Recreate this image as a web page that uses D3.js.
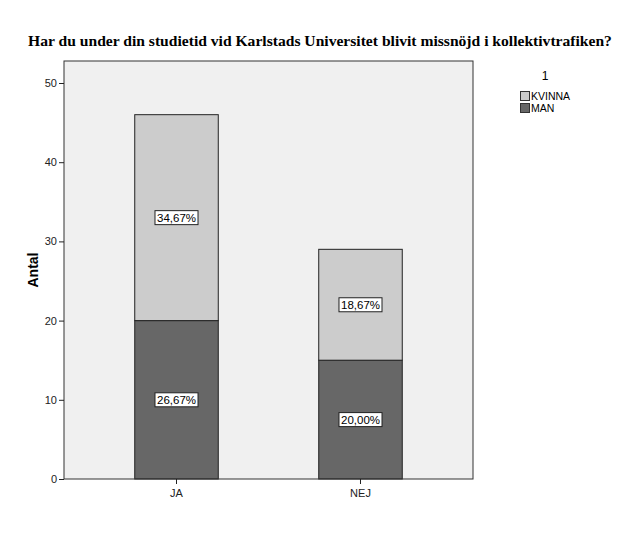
<!DOCTYPE html>
<html>
<head>
<meta charset="utf-8">
<script src="https://cdn.jsdelivr.net/npm/d3@7"></script>
<style>
  body { margin: 0; background: #fff; }
  svg { display: block; }
</style>
</head>
<body>
<svg width="633" height="548"></svg>
<script>
// Данные диаграммы
const categories = ["JA", "NEJ"];
const series = ["MAN", "KVINNA"];
const manValues = [20, 15];
const kvinnaValues = [26, 14];
const percentLabels = {
    MAN: ["26,67%", "20,00%"],
    KVINNA: ["34,67%", "18,67%"]
};
const yTicks = [0, 10, 20, 30, 40, 50];
const colors = { MAN: "#676767", KVINNA: "#cccccc" };

const svg = d3.select("svg");

// Область графика
const area = { left: 64, top: 61, right: 473, bottom: 479 };

// Заголовок
svg.append("text")
    .attr("x", 320)
    .attr("y", 46)
    .attr("text-anchor", "middle")
    .style("font-family", "'Liberation Serif', 'Times New Roman', serif")
    .style("font-weight", "bold")
    .style("font-size", "15.6px")
    .text("Har du under din studietid vid Karlstads Universitet blivit missnöjd i kollektivtrafiken?");

// Фон области
svg.append("rect")
    .attr("x", area.left)
    .attr("y", area.top)
    .attr("width", area.right - area.left)
    .attr("height", area.bottom - area.top)
    .attr("fill", "#f0f0f0");

// Шкалы
let scX = d3.scaleBand()
    .domain(categories)
    .range([area.left, area.right])
    .paddingInner(0.546)
    .paddingOuter(0.3845);

let scY = d3.scaleLinear()
    .domain([0, 50])
    .range([area.bottom, area.bottom - 5 * 79.2]);

// Стек
const table = categories.map((c, i) => ({ cat: c, MAN: manValues[i], KVINNA: kvinnaValues[i] }));
const stacked = d3.stack().keys(series)(table);

stacked.forEach(layer => {
    svg.selectAll(null)
        .data(layer)
        .enter()
        .append("rect")
        .attr("x", d => scX(d.data.cat))
        .attr("y", d => scY(d[1]))
        .attr("width", scX.bandwidth())
        .attr("height", d => scY(d[0]) - scY(d[1]))
        .attr("fill", colors[layer.key])
        .attr("stroke", "#222")
        .attr("stroke-width", 1);
});

// Подписи процентов
stacked.forEach(layer => {
    layer.forEach((d, i) => {
        const cx = scX(d.data.cat) + scX.bandwidth() / 2;
        const cy = scY((d[0] + d[1]) / 2);
        const g = svg.append("g").attr("transform", `translate(${cx}, ${cy})`);
        const t = g.append("text")
            .attr("text-anchor", "middle")
            .attr("dy", "0.35em")
            .style("font-family", "Arial, 'Liberation Sans', sans-serif")
            .style("font-size", "11.5px")
            .text(percentLabels[layer.key][i]);
        const w = t.node().getComputedTextLength() + 4;
        g.insert("rect", "text")
            .attr("x", -w / 2)
            .attr("y", -7)
            .attr("width", w)
            .attr("height", 14)
            .attr("fill", "#fff")
            .attr("stroke", "#222")
            .attr("stroke-width", 1);
    });
});

// Рамка области
svg.append("rect")
    .attr("x", area.left)
    .attr("y", area.top)
    .attr("width", area.right - area.left)
    .attr("height", area.bottom - area.top)
    .attr("fill", "none")
    .attr("stroke", "#333")
    .attr("stroke-width", 1);

// Оси
const axisY = svg.append("g")
    .attr("transform", `translate(${area.left}, 0)`)
    .call(d3.axisLeft(scY).tickValues(yTicks).tickSize(5).tickPadding(2));
const axisX = svg.append("g")
    .attr("transform", `translate(0, ${area.bottom})`)
    .call(d3.axisBottom(scX).tickSize(5).tickPadding(5));

[axisY, axisX].forEach(ax => {
    ax.select(".domain").remove();
    ax.selectAll("line").attr("stroke", "#222");
    ax.selectAll("text")
        .style("font-family", "Arial, 'Liberation Sans', sans-serif")
        .style("font-size", "11px")
        .attr("fill", "#222");
});

// Подпись оси Y
svg.append("text")
    .attr("transform", `translate(38, ${(area.top + area.bottom) / 2}) rotate(-90)`)
    .attr("text-anchor", "middle")
    .style("font-family", "Arial, 'Liberation Sans', sans-serif")
    .style("font-weight", "bold")
    .style("font-size", "14px")
    .text("Antal");

// Легенда
const legend = svg.append("g").attr("transform", "translate(520, 0)");
legend.append("text")
    .attr("x", 25)
    .attr("y", 80)
    .attr("text-anchor", "middle")
    .style("font-family", "Arial, 'Liberation Sans', sans-serif")
    .style("font-size", "12px")
    .text("1");
["KVINNA", "MAN"].forEach((k, i) => {
    legend.append("rect")
        .attr("x", 0.5)
        .attr("y", 91.5 + i * 12)
        .attr("width", 9)
        .attr("height", 9)
        .attr("fill", colors[k])
        .attr("stroke", "#333");
    legend.append("text")
        .attr("x", 11)
        .attr("y", 100 + i * 12)
        .style("font-family", "Arial, 'Liberation Sans', sans-serif")
        .style("font-size", "10.5px")
        .text(k);
});
</script>
</body>
</html>
